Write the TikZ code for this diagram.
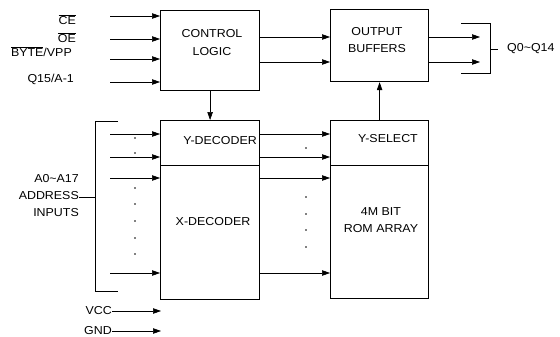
\documentclass[tikz,border=0pt]{standalone}
\usepackage{fontspec}
\setmainfont{Liberation Sans}[FakeStretch=1.08]
\usetikzlibrary{arrows.meta, calc}

\begin{document}
\begin{tikzpicture}[x=1pt, y=-1pt, font=\fontsize{11.5}{17}\selectfont,
    blk/.style={draw, line width=1.2pt, inner sep=0pt, anchor=north west},
    txt/.style={inner sep=0pt},
    sig/.style={line width=0.6pt, -{Triangle[length=8pt, width=5.5pt]}},
    wire/.style={line width=0.6pt},
    dot/.style={circle, fill, inner sep=0pt, minimum size=1.7pt}]
    \useasboundingbox (0,0) rectangle (560,337);

    % blocks
    \node[blk, minimum width=99pt, minimum height=80pt] (ctrl) at (160,10) {};
    \node[blk, minimum width=98pt, minimum height=72pt] (obuf) at (330,9) {};
    \node[blk, minimum width=99pt, minimum height=45pt] (ydec) at (160,120) {};
    \node[blk, minimum width=99pt, minimum height=134pt] (xdec) at (160,165) {};
    \node[blk, minimum width=98pt, minimum height=45pt] (ysel) at (330,120) {};
    \node[blk, minimum width=98pt, minimum height=133pt] (rom) at (330,165) {};

    \node[txt, align=center] (ctrlt) at (212,42.5) {CONTROL\\[1.5pt]LOGIC};
    \node[txt, align=center] (obuft) at (377,40) {OUTPUT\\BUFFERS};
    \node[txt, anchor=east] (ydect) at (257,141) {Y-DECODER};
    \node[txt] (yselt) at (388,139) {Y-SELECT};
    \node[txt] (xdect) at (213,222) {X-DECODER};
    \node[txt, align=center] (romt) at (381,220) {4M BIT\\ROM ARRAY};

    % control inputs
    \node[txt, anchor=base east] (ce) at (76,25) {$\overline{\hbox{CE}}$};
    \node[txt, anchor=base east] (oe) at (76,43) {$\overline{\hbox{OE}}$};
    \node[txt, anchor=base east] (byte) at (72,57) {$\overline{\hbox{BYTE}}$/VPP};
    \node[txt, anchor=base east] (qa) at (74,83) {Q15/A-1};
    \foreach \y/\n in {16/ce, 39/oe, 59/byte, 82/qa}{
        \coordinate (\n-in) at (110,\y);
        \draw[sig] (\n-in) -- (\n-in -| ctrl.west);
    }

    \draw[sig] (ctrl.south) -- (ydec.north);
    \draw[sig] (ysel.north) -- (obuf.south);
    \foreach \y in {37,62}{
        \draw[sig] (ctrl.east |- 0,\y) -- (obuf.west |- 0,\y);
        \draw[sig] (obuf.east |- 0,\y) -- (480,\y);
    }

    % outputs
    \draw[wire] (461,23) -- (490,23) -- (490,73) -- (461,73);
    \coordinate (obr) at (490,49);
    \node[txt, anchor=west] (q) at (507,49) {Q0\textasciitilde Q14};
    \draw[wire] (obr) -- ++(8,0);

    % address inputs
    \node[txt, anchor=east, align=right] (addr) at (79,196) {A0\textasciitilde A17\\ADDRESS\\INPUTS};
    \coordinate (abr) at (95,197);
    \draw[wire] (118,121) -- (95,121) -- (95,291) -- (118,291);
    \draw[wire] (addr.east |- abr) -- (abr);
    \foreach \y in {134,157,178,273}{
        \coordinate (a\y) at (110,\y);
        \draw[sig] (a\y) -- (a\y -| xdec.west);
        \draw[sig] (xdec.east |- a\y) -- (rom.west |- a\y);
    }
    \foreach \y in {138,153,188,204,221,238,254}
        \node[dot] at (135,\y) {};
    \foreach \y in {148,197,214,230,247}
        \node[dot] at (306,\y) {};

    % supply
    \node[txt, anchor=east] (vcc) at (112,311) {VCC};
    \node[txt, anchor=east] (gnd) at (112,331) {GND};
    \coordinate (vcc-end) at (161,311);
    \coordinate (gnd-end) at (161,331);
    \draw[sig] (vcc) -- (vcc-end);
    \draw[sig] (gnd) -- (gnd-end);
\end{tikzpicture}
\end{document}
